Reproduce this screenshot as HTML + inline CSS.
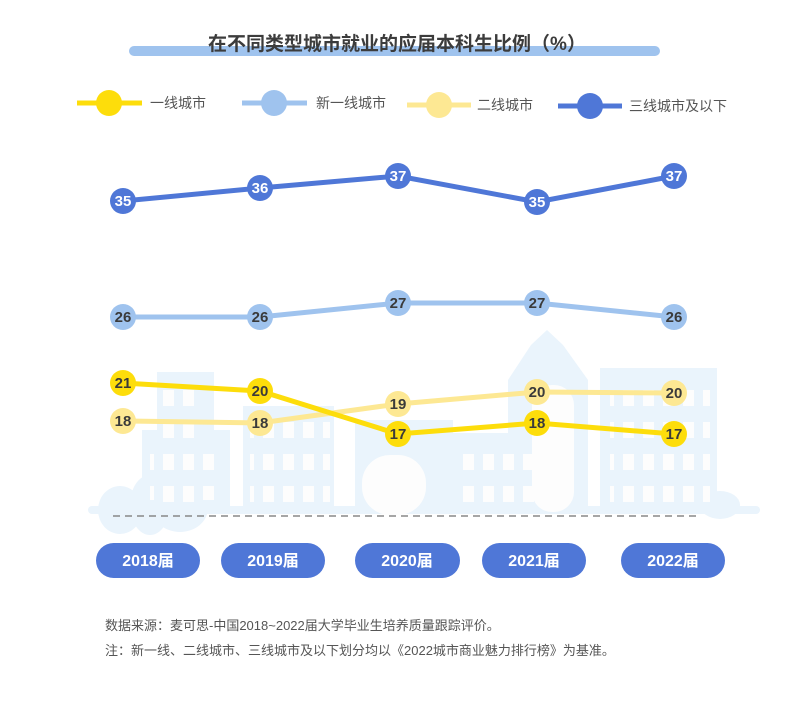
<!DOCTYPE html>
<html><head><meta charset="utf-8"><style>
body{margin:0;background:#fff;}
svg text{font-family:"Liberation Sans","Noto Sans CJK SC",sans-serif;}
</style></head><body>
<svg width="794" height="720" viewBox="0 0 794 720" xmlns="http://www.w3.org/2000/svg">
<defs>
<pattern id="win" width="20" height="32" patternUnits="userSpaceOnUse"><rect x="3" y="6" width="11" height="16" fill="#fdfdfd"/></pattern>
</defs>
<rect width="794" height="720" fill="#fff"/>
<!-- title -->
<rect x="129" y="46" width="531" height="10" rx="5" fill="#9fc3ee"/>
<text x="397" y="50" text-anchor="middle" font-size="19" font-weight="bold" fill="#3c3c3c">在不同类型城市就业的应届本科生比例（%）</text>
<!-- legend -->
<g font-size="14" fill="#555">
<line x1="77" y1="103" x2="142" y2="103" stroke="#fddd0b" stroke-width="5"/><circle cx="109" cy="103" r="13" fill="#fddd0b"/><text x="150" y="108">一线城市</text>
<line x1="242" y1="103" x2="307" y2="103" stroke="#9fc3ee" stroke-width="5"/><circle cx="274" cy="103" r="13" fill="#9fc3ee"/><text x="316" y="108">新一线城市</text>
<line x1="407" y1="105" x2="471" y2="105" stroke="#fde893" stroke-width="5"/><circle cx="439" cy="105" r="13" fill="#fde893"/><text x="477" y="110">二线城市</text>
<line x1="558" y1="106" x2="622" y2="106" stroke="#4f77d7" stroke-width="5"/><circle cx="590" cy="106" r="13" fill="#4f77d7"/><text x="629" y="111">三线城市及以下</text>
</g>
<!-- city background -->
<g fill="#eaf4fc">
<rect x="157" y="372" width="57" height="141"/>
<rect x="142" y="430" width="88" height="83"/>
<rect x="243" y="406" width="91" height="107"/>
<rect x="355" y="420" width="98" height="93"/>
<rect x="447" y="433" width="95" height="80"/>
<path d="M531 345 L547 330 L563 345 L588 380 L588 513 L531 513 L508 513 L508 380Z"/>
<rect x="600" y="368" width="117" height="145"/>
<rect x="88" y="506" width="672" height="8" rx="4"/>
<ellipse cx="120" cy="510" rx="22" ry="24"/><ellipse cx="150" cy="505" rx="20" ry="30"/><ellipse cx="180" cy="508" rx="28" ry="24"/>
<ellipse cx="720" cy="505" rx="20" ry="14"/>
</g>
<rect x="162" y="380" width="40" height="130" fill="url(#win)"/>
<rect x="150" y="440" width="70" height="60" fill="url(#win)"/>
<rect x="250" y="420" width="80" height="88" fill="url(#win)"/>
<rect x="460" y="445" width="80" height="60" fill="url(#win)"/>
<rect x="610" y="380" width="100" height="125" fill="url(#win)"/>
<g fill="#fdfdfd">
<rect x="362" y="455" width="64" height="60" rx="28"/>
<rect x="532" y="385" width="42" height="127" rx="20"/>
</g>
<line x1="113" y1="516" x2="700" y2="516" stroke="#888" stroke-width="1.5" stroke-dasharray="7,5"/>
<!-- series -->
<g stroke-width="5" fill="none">
<polyline points="123,201 260,188 398,176 537,202 674,176" stroke="#4f77d7"/>
<polyline points="123,317 260,317 398,303 537,303 674,317" stroke="#9fc3ee"/>
<polyline points="123,421 260,423 398,404 537,392 674,393" stroke="#fde893"/>
<polyline points="123,383 260,391 398,434 537,423 674,434" stroke="#fddd0b"/>
</g>
<g font-size="15" font-weight="bold" text-anchor="middle">
<g fill="#4f77d7"><circle cx="123" cy="201" r="13"/><circle cx="260" cy="188" r="13"/><circle cx="398" cy="176" r="13"/><circle cx="537" cy="202" r="13"/><circle cx="674" cy="176" r="13"/></g>
<g fill="#fff"><text x="123" y="206">35</text><text x="260" y="193">36</text><text x="398" y="181">37</text><text x="537" y="207">35</text><text x="674" y="181">37</text></g>
<g fill="#9fc3ee"><circle cx="123" cy="317" r="13"/><circle cx="260" cy="317" r="13"/><circle cx="398" cy="303" r="13"/><circle cx="537" cy="303" r="13"/><circle cx="674" cy="317" r="13"/></g>
<g fill="#3a3a3a"><text x="123" y="322">26</text><text x="260" y="322">26</text><text x="398" y="308">27</text><text x="537" y="308">27</text><text x="674" y="322">26</text></g>
<g fill="#fde893"><circle cx="123" cy="421" r="13"/><circle cx="260" cy="423" r="13"/><circle cx="398" cy="404" r="13"/><circle cx="537" cy="392" r="13"/><circle cx="674" cy="393" r="13"/></g>
<g fill="#3a3a3a"><text x="123" y="426">18</text><text x="260" y="428">18</text><text x="398" y="409">19</text><text x="537" y="397">20</text><text x="674" y="398">20</text></g>
<g fill="#fddd0b"><circle cx="123" cy="383" r="13"/><circle cx="260" cy="391" r="13"/><circle cx="398" cy="434" r="13"/><circle cx="537" cy="423" r="13"/><circle cx="674" cy="434" r="13"/></g>
<g fill="#3a3a3a"><text x="123" y="388">21</text><text x="260" y="396">20</text><text x="398" y="439">17</text><text x="537" y="428">18</text><text x="674" y="439">17</text></g>
</g>
<!-- year pills -->
<g fill="#4f77d7">
<rect x="96" y="543" width="104" height="35" rx="17.5"/>
<rect x="221" y="543" width="104" height="35" rx="17.5"/>
<rect x="355" y="543" width="105" height="35" rx="17.5"/>
<rect x="482" y="543" width="104" height="35" rx="17.5"/>
<rect x="621" y="543" width="104" height="35" rx="17.5"/>
</g>
<g fill="#fff" font-size="16" font-weight="bold" text-anchor="middle">
<text x="148" y="566">2018届</text><text x="273" y="566">2019届</text><text x="407" y="566">2020届</text><text x="534" y="566">2021届</text><text x="673" y="566">2022届</text>
</g>
<g font-size="13" fill="#555">
<text x="105" y="630">数据来源：麦可思-中国2018~2022届大学毕业生培养质量跟踪评价。</text>
<text x="105" y="655">注：新一线、二线城市、三线城市及以下划分均以《2022城市商业魅力排行榜》为基准。</text>
</g>
</svg>
</body></html>
